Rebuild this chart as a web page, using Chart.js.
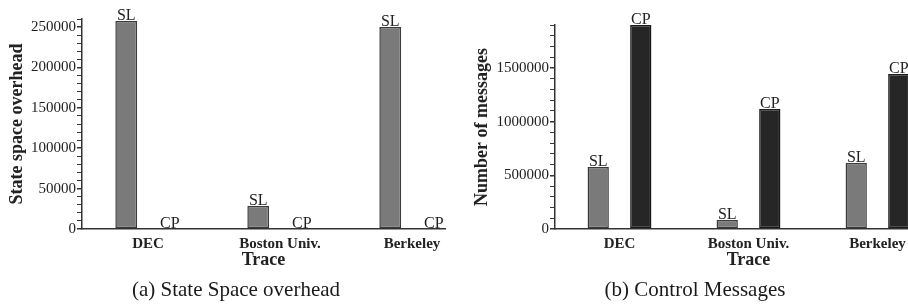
<!DOCTYPE html>
<html>
<head>
<meta charset="utf-8">
<script src="https://cdn.jsdelivr.net/npm/chart.js@4"></script>
<style>
  html, body { margin: 0; padding: 0; background: #fff; overflow: hidden; }
  body { width: 908px; height: 304px; position: relative; }
  canvas { position: absolute; top: 0; }
  .caption { position: absolute; top: 276px; font: 21px "Liberation Serif", serif; color: #1a1a1a;
             white-space: nowrap; transform: translateX(-50%); line-height: 26px; }
</style>
</head>
<body>
<canvas id="chartState" width="454" height="304" style="left:0"></canvas>
<canvas id="chartMsg" width="500" height="304" style="left:454px"></canvas>
<div class="caption" style="left:236px">(a) State Space overhead</div>
<div class="caption" style="left:695px">(b) Control Messages</div>
<script>
// values
var traces = ['DEC', 'Boston Univ.', 'Berkeley'];
var stateSL = [257500, 28500, 250000];
var stateCP = [0, 0, 0];
var msgSL = [577000, 84000, 614000];
var msgCP = [1900000, 1117000, 1443000];

var serif = '"Liberation Serif", "Times New Roman", serif';
var ink = '#222';

// draws "SL" / "CP" on top of each bar
var barLabels = {
    id: 'barLabels',
    afterDatasetsDraw: function (chart) {
        var ctx = chart.ctx;
        ctx.save();
        ctx.font = '16px ' + serif;
        ctx.fillStyle = ink;
        ctx.textAlign = 'center';
        ctx.textBaseline = 'alphabetic';
        chart.data.datasets.forEach(function (ds, i) {
            chart.getDatasetMeta(i).data.forEach(function (el) {
                ctx.fillText(ds.label, el.x, el.y - 1);
            });
        });
        ctx.restore();
    }
};

function points(values) {
    return values.map(function (v, i) { return { x: i, y: v }; });
}

function makeChart(id, sl, cp, opts) {
    return new Chart(document.getElementById(id), {
        type: 'bar',
        data: {
            datasets: [
                {
                    label: 'SL',
                    data: points(sl),
                    backgroundColor: '#7a7a7a',
                    borderColor: '#3a3a3a',
                    borderWidth: 1.5,
                    borderSkipped: false,
                    categoryPercentage: 0.66,
                    barPercentage: 0.5
                },
                {
                    label: 'CP',
                    data: points(cp),
                    backgroundColor: '#262626',
                    borderColor: '#1a1a1a',
                    borderWidth: 1.5,
                    borderSkipped: false,
                    categoryPercentage: 0.66,
                    barPercentage: 0.5
                }
            ]
        },
        options: {
            animation: false,
            responsive: false,
            layout: { padding: opts.padding },
            plugins: {
                legend: { display: false },
                tooltip: { enabled: false }
            },
            scales: {
                x: {
                    type: 'linear',
                    offset: false,
                    min: -0.5,
                    max: opts.xMax,
                    afterBuildTicks: function (s) {
                        s.ticks = traces.map(function (t, i) { return { value: i }; });
                    },
                    afterFit: function (s) { s.height = 43; },
                    grid: { display: false, drawTicks: false },
                    border: { display: true, color: '#333', width: 1.5 },
                    ticks: {
                        padding: 6,
                        color: ink,
                        font: { family: serif, size: 15, weight: 'bold' },
                        maxRotation: 0,
                        autoSkip: false,
                        callback: function (v) { return traces[v]; }
                    },
                    title: {
                        display: true,
                        text: 'Trace',
                        color: ink,
                        font: { family: serif, size: 18, weight: 'bold' },
                        padding: { top: 0, bottom: 1 }
                    }
                },
                y: {
                    min: 0,
                    max: opts.yMax,
                    afterFit: function (s) { s.width = opts.yWidth; },
                    grid: {
                        drawOnChartArea: false,
                        drawTicks: true,
                        tickLength: 5,
                        color: '#333',
                        lineWidth: function (c) {
                            return c.tick && c.tick.value % opts.major === 0 ? 1.5 : 1;
                        }
                    },
                    border: { display: true, color: '#333', width: 1.5 },
                    ticks: {
                        stepSize: opts.minor,
                        autoSkip: false,
                        padding: 1,
                        color: ink,
                        font: { family: serif, size: 15 },
                        callback: function (v) { return v % opts.major === 0 ? String(v) : ''; }
                    },
                    title: {
                        display: true,
                        text: opts.yTitle,
                        color: ink,
                        font: { family: serif, size: 18, weight: 'bold' },
                        padding: { top: opts.titlePad, bottom: 0 }
                    }
                }
            }
        },
        plugins: [barLabels]
    });
}

var chartState = makeChart('chartState', stateSL, stateCP, {
    padding: { top: 19, right: 9, bottom: 32, left: 0 },
    xMax: 2.25,
    yMax: 260000,
    major: 50000,
    minor: 10000,
    yWidth: 82,
    titlePad: 7,
    yTitle: 'State space overhead'
});

var chartMsg = makeChart('chartMsg', msgSL, msgCP, {
    padding: { top: 25, right: 12, bottom: 32, left: 0 },
    xMax: 2.5,
    yMax: 1900000,
    major: 500000,
    minor: 100000,
    yWidth: 101,
    titlePad: 18,
    yTitle: 'Number of messages'
});
</script>
</body>
</html>
